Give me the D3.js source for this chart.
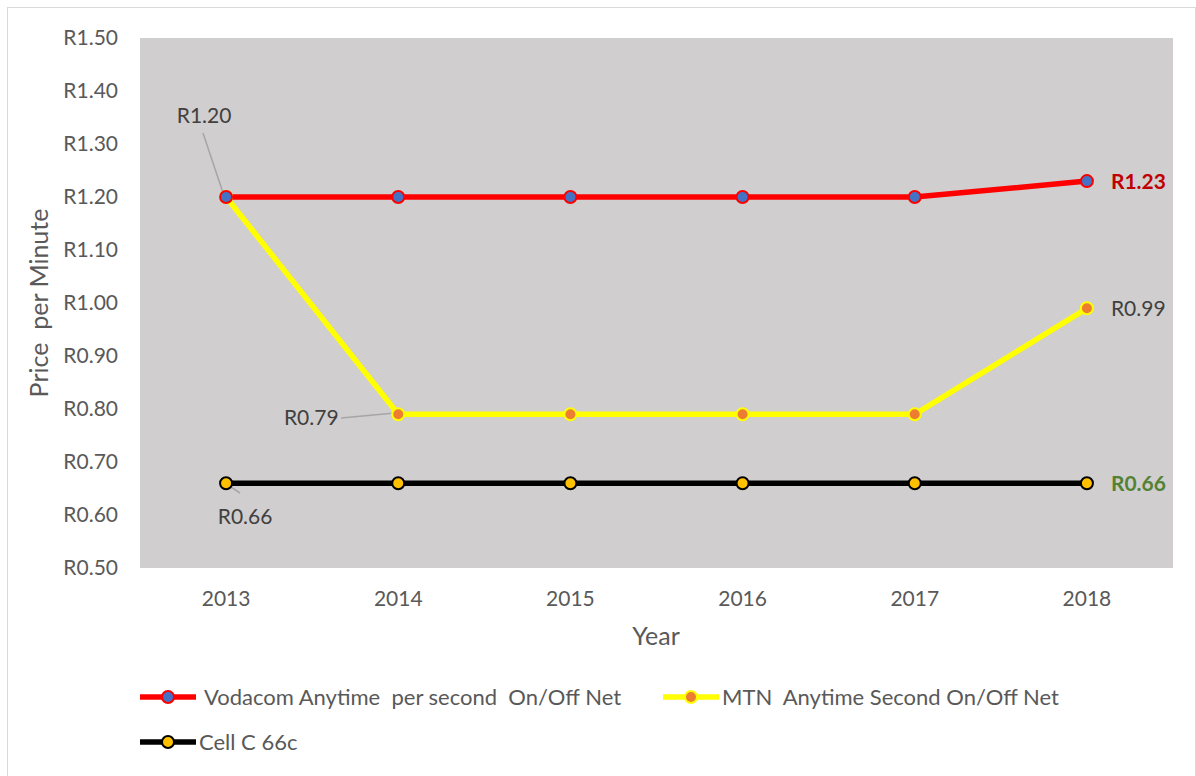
<!DOCTYPE html>
<html>
<head>
<meta charset="utf-8">
<script src="https://cdn.jsdelivr.net/npm/d3@7"></script>
<style>
  body { margin: 0; background: #fff; }
  text { font-family: Lato, "Open Sans", sans-serif; white-space: pre; }
</style>
</head>
<body>
<div id="chart"></div>
<script>
const years = ['2013', '2014', '2015', '2016', '2017', '2018'];
const vodacom = [1.20, 1.20, 1.20, 1.20, 1.20, 1.23];
const mtn = [1.20, 0.79, 0.79, 0.79, 0.79, 0.99];
const cellc = [0.66, 0.66, 0.66, 0.66, 0.66, 0.66];
const yTicks = [0.5, 0.6, 0.7, 0.8, 0.9, 1.0, 1.1, 1.2, 1.3, 1.4, 1.5];

const series = [
  { name: 'Vodacom Anytime  per second  On/Off Net', values: vodacom, line: '#ff0000', fill: '#4472c4', ring: '#ff0000' },
  { name: 'MTN  Anytime Second On/Off Net', values: mtn, line: '#ffff00', fill: '#ed7d31', ring: '#ffff00' },
  { name: 'Cell C 66c', values: cellc, line: '#000000', fill: '#ffc000', ring: '#000000' }
];

const W = 1196, H = 776;
const svg = d3.select('#chart').append('svg')
  .attr('width', W)
  .attr('height', H);

// outer frame
svg.append('rect')
  .attr('x', 7.5).attr('y', 7.5)
  .attr('width', 1188).attr('height', 770)
  .attr('fill', '#fff')
  .attr('stroke', '#d9d9d9');

const plot = { left: 140, top: 38, right: 1173, bottom: 568 };

const x = d3.scaleBand().domain(years).range([plot.left, plot.right]);
const y = d3.scaleLinear().domain([0.5, 1.5]).range([plot.bottom, plot.top]);
const cx = d => x(d) + x.bandwidth() / 2;

svg.append('rect')
  .attr('x', plot.left).attr('y', plot.top)
  .attr('width', plot.right - plot.left)
  .attr('height', plot.bottom - plot.top)
  .attr('fill', '#d0cece');

const textCol = '#595959';
const fs = 21;

// y axis
const yAxis = svg.append('g')
  .attr('transform', `translate(${plot.left - 19},0)`)
  .call(d3.axisLeft(y).tickValues(yTicks).tickSize(0).tickFormat(d => 'R' + d3.format('.2f')(d)));
yAxis.select('.domain').remove();
yAxis.selectAll('text')
  .attr('fill', textCol)
  .attr('font-size', fs);

// x axis
const xAxis = svg.append('g')
  .attr('transform', `translate(0,${plot.bottom + 20})`)
  .call(d3.axisBottom(x).tickSize(0));
xAxis.select('.domain').remove();
xAxis.selectAll('text')
  .attr('fill', textCol)
  .attr('font-size', fs);

svg.append('text')
  .attr('x', 656).attr('y', 645)
  .attr('text-anchor', 'middle')
  .attr('fill', textCol)
  .attr('font-size', 25)
  .text('Year');

svg.append('text')
  .attr('transform', `translate(48,${(plot.top + plot.bottom) / 2}) rotate(-90)`)
  .attr('text-anchor', 'middle')
  .attr('fill', textCol)
  .attr('font-size', 25)
  .text('Price  per Minute');

const line = d3.line()
  .x((d, i) => cx(years[i]))
  .y(d => y(d));

// draw in reverse so Vodacom sits on top
[...series].reverse().forEach(s => {
  svg.append('path')
    .datum(s.values)
    .attr('d', line)
    .attr('fill', 'none')
    .attr('stroke', s.line)
    .attr('stroke-width', 5.5)
    .attr('stroke-linejoin', 'round');
});

// leader lines for left labels
const leaders = [
  { v: mtn[0], i: 0, x1: 203, y1: 133, x2: -3, y2: -4 },
  { v: mtn[1], i: 1, x1: 341, y1: 418, x2: -6, y2: -1 },
  { v: cellc[0], i: 0, x1: 240, y1: 493, x2: 2, y2: 2 }
];
leaders.forEach(l => {
  svg.append('line')
    .attr('x1', l.x1).attr('y1', l.y1)
    .attr('x2', cx(years[l.i]) + l.x2).attr('y2', y(l.v) + l.y2)
    .attr('stroke', '#a6a6a6')
    .attr('stroke-width', 1.5);
});

[...series].reverse().forEach(s => {
  svg.selectAll(null)
    .data(s.values)
    .join('circle')
    .attr('cx', (d, i) => cx(years[i]))
    .attr('cy', d => y(d))
    .attr('r', 6)
    .attr('fill', s.fill)
    .attr('stroke', s.ring)
    .attr('stroke-width', 2);
});

// data labels
const fmt = d => 'R' + d3.format('.2f')(d);
const labels = [
  { v: mtn[0], i: 0, dx: -22, dy: -74, anchor: 'middle', col: '#404040', bold: false },
  { v: mtn[1], i: 1, dx: -87, dy: 11, anchor: 'middle', col: '#404040', bold: false },
  { v: cellc[0], i: 0, dx: 19, dy: 41, anchor: 'middle', col: '#404040', bold: false },
  { v: vodacom[5], i: 5, dx: 24, dy: 8, anchor: 'start', col: '#c00000', bold: true },
  { v: mtn[5], i: 5, dx: 24, dy: 8, anchor: 'start', col: '#404040', bold: false },
  { v: cellc[5], i: 5, dx: 24, dy: 8, anchor: 'start', col: '#548235', bold: true }
];
labels.forEach(l => {
  svg.append('text')
    .attr('x', cx(years[l.i]) + l.dx)
    .attr('y', y(l.v) + l.dy)
    .attr('text-anchor', l.anchor)
    .attr('fill', l.col)
    .attr('font-size', 21)
    .attr('font-weight', l.bold ? 'bold' : 'normal')
    .text(fmt(l.v));
});

// legend
const legendPos = [
  { x: 140, y: 697, tx: 204 },
  { x: 663, y: 697, tx: 722 },
  { x: 140, y: 742, tx: 199 }
];
series.forEach((s, i) => {
  const p = legendPos[i];
  const g = svg.append('g');
  g.append('line')
    .attr('x1', p.x).attr('x2', p.x + 56)
    .attr('y1', p.y).attr('y2', p.y)
    .attr('stroke', s.line)
    .attr('stroke-width', 5.5);
  g.append('circle')
    .attr('cx', p.x + 28).attr('cy', p.y)
    .attr('r', 6)
    .attr('fill', s.fill)
    .attr('stroke', s.ring)
    .attr('stroke-width', 2);
  g.append('text')
    .attr('x', p.tx).attr('y', p.y + 8)
    .attr('fill', textCol)
    .attr('font-size', 22)
    .text(s.name);
});
</script>
</body>
</html>
